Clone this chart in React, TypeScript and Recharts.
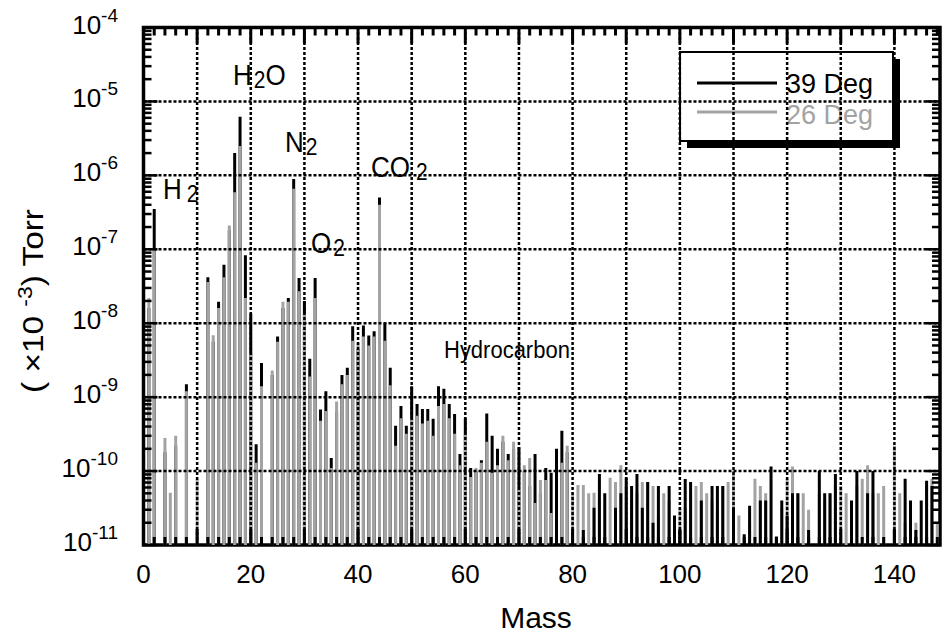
import { ComposedChart, Customized, Line, ReferenceLine, XAxis, YAxis } from "recharts";

// peak height per mass (mass 1..148), Torr (x10^-3); null = below the floor
const black39 = [
  1.6e-8, 3.5e-7, null, 1.8e-10, null, 2.2e-10, null, 1.5e-9, null, null,
  null, 4.2e-8, 5.6e-9, 1.95e-8, 6.2e-8, 1.8e-7, 2.0e-6, 6.2e-6, 8.3e-8, 1.35e-8,
  2.3e-10, 2.9e-9, null, 2.0e-9, 6.6e-9, 1.6e-8, 2.2e-8, 8.9e-7, 4.1e-8, 2.0e-8,
  3.3e-9, 4.1e-8, 6.8e-10, 1.2e-9, 1.5e-10, 6.3e-10, 2.0e-9, 2.5e-9, 9.1e-9, 4.5e-9,
  9.3e-9, 6.8e-9, 7.8e-9, 5.0e-7, 1.0e-8, 2.5e-9, 4.1e-10, 7.6e-10, 4.1e-10, 1.4e-9,
  8.1e-10, 6.9e-10, 6.9e-10, 5.1e-10, 1.4e-9, 1.3e-9, 8.1e-10, 5.9e-10, 1.7e-10, 5.2e-10,
  1.1e-10, 1.0e-10, 1.4e-10, 6.0e-10, 3.0e-10, 2.0e-10, 2.5e-10, 1.7e-10, 2.0e-10, 2.1e-10,
  1.0e-10, 6.3e-11, 1.7e-10, 5.0e-11, 1.1e-10, 9.5e-11, 2.0e-10, 3.5e-10, 1.8e-10, null,
  null, 1.6e-11, null, 3.2e-11, 9.1e-11, 5.0e-11, null, 3.2e-11, 5.0e-11, 8.1e-11,
  6.3e-11, 9.1e-11, 3.2e-11, 7.1e-11, 2.0e-11, 6.3e-11, null, 6.3e-11, 2.5e-11, 1.6e-11,
  7.8e-11, 7.1e-11, null, 4.0e-11, null, 6.3e-11, 6.3e-11, 6.3e-11, null, 3.2e-11,
  null, 1.4e-11, 3.4e-11, null, 4.0e-11, 4.0e-11, 1.15e-10, 1.3e-11, 4.0e-11, 2.5e-11,
  5.0e-11, 5.0e-11, null, 1.6e-11, null, 1.0e-10, 5.0e-11, 5.0e-11, 9.1e-11, null,
  null, 4.0e-11, 1.0e-10, null, 5.0e-11, 1.0e-10, null, null, null, 1.6e-11,
  null, 7.9e-11, 4.0e-11, 1.6e-11, 4.0e-11, 7.4e-11, 6.3e-11, null,
];

const gray26 = [
  2.2e-8, 1.0e-7, null, 2.8e-10, 5.1e-11, 3.0e-10, null, 1.2e-9, null, 7.8e-11,
  null, 3.6e-8, 6.9e-9, 1.6e-8, 4.2e-8, 2.1e-7, 5.9e-7, 2.5e-6, 2.2e-8, 4.0e-9,
  1.3e-10, 1.4e-9, null, 2.3e-9, 5.6e-9, 1.95e-8, 1.95e-8, 6.6e-7, 2.7e-8, 1.35e-8,
  1.9e-9, 2.2e-8, 4.8e-10, 6.5e-10, 1.1e-10, 8.7e-10, 1.5e-9, 2.0e-9, 5.8e-9, 5.4e-9,
  6.6e-9, 5.0e-9, 6.6e-9, 4.0e-7, 5.8e-9, 1.45e-9, 2.2e-10, 5.2e-10, 3.2e-10, 5.2e-10,
  5.6e-10, 4.4e-10, 4.8e-10, 3.0e-10, 7.6e-10, 8.1e-10, 5.2e-10, 3.2e-10, 1.2e-10, 3.2e-10,
  8.3e-11, 1.1e-10, 1.3e-10, 2.5e-10, 9.5e-11, 1.2e-10, 3.0e-10, 1.4e-10, 2.5e-10, 5.9e-11,
  1.2e-10, 1.5e-10, 3.7e-11, 7.6e-11, 7.6e-11, 2.7e-11, null, 1.3e-10, 2.2e-10, 5.1e-11,
  6.5e-11, 6.5e-11, 5.0e-11, 5.1e-11, 4.0e-11, null, 8.1e-11, 7.1e-11, 1.2e-10, 6.3e-11,
  4.0e-11, 5.0e-11, 7.1e-11, 7.1e-11, 6.3e-11, 2.5e-11, 5.0e-11, 4.0e-11, null, 3.2e-11,
  3.2e-11, 5.0e-11, 6.3e-11, 7.1e-11, 5.0e-11, 4.0e-11, 3.2e-11, 6.3e-11, 7.1e-11, 1.0e-10,
  2.5e-11, null, 2.0e-11, 7.9e-11, 6.3e-11, 5.0e-11, null, null, 3.2e-11, 7.9e-11,
  1.15e-10, 5.0e-11, 5.0e-11, 3.0e-11, null, 5.0e-11, 4.0e-11, 5.0e-11, 6.3e-11, 6.3e-11,
  5.0e-11, null, 6.3e-11, 7.9e-11, 1.2e-10, 5.0e-11, 5.0e-11, 6.3e-11, null, 2.2e-10,
  5.0e-11, 2.0e-11, 2.0e-11, 2.0e-11, null, 6.3e-11, 7.9e-11, 2.0e-11,
];

const masses = black39.map((_, i) => i + 1);

const xLabels = [0, 20, 40, 60, 80, 100, 120, 140];
const xGrid = [10, 20, 30, 40, 50, 60, 70, 80, 90, 100, 110, 120, 130, 140];
const xTicks = Array.from({ length: 75 }, (_, i) => i * 2);
const decades = [-11, -10, -9, -8, -7, -6, -5, -4];
const yTicks = decades.flatMap((d) =>
  d === -4 ? [1e-4] : [1, 2, 3, 4, 5, 6, 7, 8, 9].map((k) => Number(`${k}e${d}`))
);

const W = 944;
const H = 641;
const PLOT = { left: 143.5, top: 27.5, right: 940, bottom: 545 };
const FONT = "'Liberation Sans', Arial, sans-serif";
const GRAY = "#a3a3a3";
const FLOOR = 1e-13; // sticks start below the visible range and get clipped
const NOISE_FROM = 81; // above this mass the 39 Deg trace sits in front

// each peak becomes a vertical stick from the floor
const sticks = (vals: (number | null)[], from = 0, to = Infinity) =>
  vals.flatMap((v, i) =>
    v == null || masses[i] < from || masses[i] >= to
      ? []
      : [
          { m: masses[i], v: FLOOR },
          { m: masses[i], v },
          { m: masses[i], v: FLOOR },
        ]
  );

const blackLow = sticks(black39, 0, NOISE_FROM);
const blackHigh = sticks(black39, NOISE_FROM);
const grayData = sticks(gray26);

const XTick = (props: any) => {
  const { x, payload } = props;
  const v = payload.value;
  const len = v % 10 === 0 ? 16 : 8;
  return (
    <g>
      <line x1={x} x2={x} y1={PLOT.bottom} y2={PLOT.bottom - len} stroke="#000" strokeWidth={3} />
      <line x1={x} x2={x} y1={PLOT.top} y2={PLOT.top + len} stroke="#000" strokeWidth={3} />
      {xLabels.includes(v) && (
        <text x={x} y={583} textAnchor="middle" fontSize={26} fontFamily={FONT} fill="#000">
          {v}
        </text>
      )}
    </g>
  );
};

const YTick = (props: any) => {
  const { y, payload } = props;
  const lg = Math.log10(payload.value);
  const e = Math.round(lg);
  const major = Math.abs(lg - e) < 1e-6;
  const len = major ? 14 : 8;
  return (
    <g>
      <line x1={PLOT.left} x2={PLOT.left + len} y1={y} y2={y} stroke="#000" strokeWidth={2.5} />
      <line x1={PLOT.right} x2={PLOT.right - len} y1={y} y2={y} stroke="#000" strokeWidth={2.5} />
      {major && (
        <text x={118} y={y + 6} textAnchor="end" fontSize={26} fontFamily={FONT} fill="#000">
          10
          <tspan dy={-12} fontSize={19}>{`${e}`}</tspan>
        </text>
      )}
    </g>
  );
};

const notes = [
  { x: 233, y: 85, w: 58, main: "H", sub: "2", tail: "O", dx: 2 },
  { x: 163, y: 199, w: 40, main: "H", sub: "2", tail: "", dx: 5 },
  { x: 285, y: 152, w: 38, main: "N", sub: "2", tail: "", dx: 2 },
  { x: 311, y: 253, w: 42, main: "O", sub: "2", tail: "", dx: 2 },
  { x: 371, y: 177, w: 64, main: "CO", sub: "2", tail: "", dx: 6 },
];

const Overlay = () => (
  <g fontFamily={FONT}>
    <rect
      x={PLOT.left}
      y={PLOT.top}
      width={PLOT.right - PLOT.left}
      height={PLOT.bottom - PLOT.top}
      fill="none"
      stroke="#000"
      strokeWidth={3.5}
    />
    {notes.map((n) => (
      <g key={n.x}>
        <rect x={n.x - 3} y={n.y - 27} width={n.w + 6} height={34} fill="#fff" />
        <g transform={`translate(${n.x},${n.y}) scale(1,1.15)`}>
          <text x={0} y={0} fontSize={26} fill="#000">
            {n.main}
            <tspan dx={n.dx} dy={3} fontSize={21}>{n.sub}</tspan>
            {n.tail && <tspan dy={-3}>{n.tail}</tspan>}
          </text>
        </g>
      </g>
    ))}
    <rect x={441} y={336} width={136} height={28} fill="#fff" />
    <g transform="translate(444,358) scale(1,1.12)">
      <text x={0} y={0} fontSize={22} fill="#000">Hydrocarbon</text>
    </g>

    <rect x={687} y={59} width={213} height={89} fill="#000" />
    <rect x={680} y={52} width={213} height={89} fill="#fff" stroke="#000" strokeWidth={2} />
    <line x1={697} x2={777} y1={83} y2={83} stroke="#000" strokeWidth={3} />
    <line x1={697} x2={777} y1={112} y2={112} stroke={GRAY} strokeWidth={3} />
    <text x={786} y={93} fontSize={27} fill="#000">39 Deg</text>
    <text x={786} y={124} fontSize={27} fill={GRAY}>26 Deg</text>

    <text x={536} y={628} textAnchor="middle" fontSize={30} fill="#000">Mass</text>
    <g transform="translate(43,301) rotate(-90) scale(1.15,1)">
      <text x={0} y={0} textAnchor="middle" fontSize={29} fill="#000">
        {"( ×10 "}
        <tspan dy={-11} fontSize={20}>-3</tspan>
        <tspan dy={11}>{") Torr"}</tspan>
      </text>
    </g>
  </g>
);

const stickLine = (data: { m: number; v: number }[], color: string, key: string) => (
  <Line
    key={key}
    data={data}
    dataKey="v"
    type="linear"
    stroke={color}
    strokeWidth={3}
    dot={false}
    activeDot={false}
    isAnimationActive={false}
  />
);

export default function App() {
  return (
    <div style={{ position: "absolute", left: 0, top: 0, width: W, height: H, background: "#fff" }}>
      <ComposedChart
        width={W}
        height={H}
        margin={{ top: PLOT.top, right: W - PLOT.right, bottom: 0, left: 0 }}
      >
        <XAxis
          type="number"
          dataKey="m"
          domain={[0, 148.5]}
          allowDataOverflow
          ticks={xTicks}
          interval={0}
          tick={(p: any) => <XTick {...p} />}
          tickLine={false}
          axisLine={false}
          tickSize={0}
          tickMargin={0}
          height={H - PLOT.bottom}
        />
        <YAxis
          type="number"
          scale="log"
          domain={[1e-11, 1e-4]}
          allowDataOverflow
          ticks={yTicks}
          interval={0}
          tick={(p: any) => <YTick {...p} />}
          tickLine={false}
          axisLine={false}
          tickSize={0}
          tickMargin={0}
          width={PLOT.left}
        />
        {stickLine(blackLow, "#000", "b-low")}
        {stickLine(grayData, GRAY, "g")}
        {stickLine(blackHigh, "#000", "b-high")}
        {xGrid.map((g) => (
          <ReferenceLine key={`x${g}`} x={g} stroke="#000" strokeWidth={2.5} strokeDasharray="3 2" />
        ))}
        {decades.slice(1, -1).map((d) => (
          <ReferenceLine
            key={`y${d}`}
            y={Number(`1e${d}`)}
            stroke="#000"
            strokeWidth={2.5}
            strokeDasharray="3 2"
          />
        ))}
        <Customized component={Overlay} />
      </ComposedChart>
    </div>
  );
}
